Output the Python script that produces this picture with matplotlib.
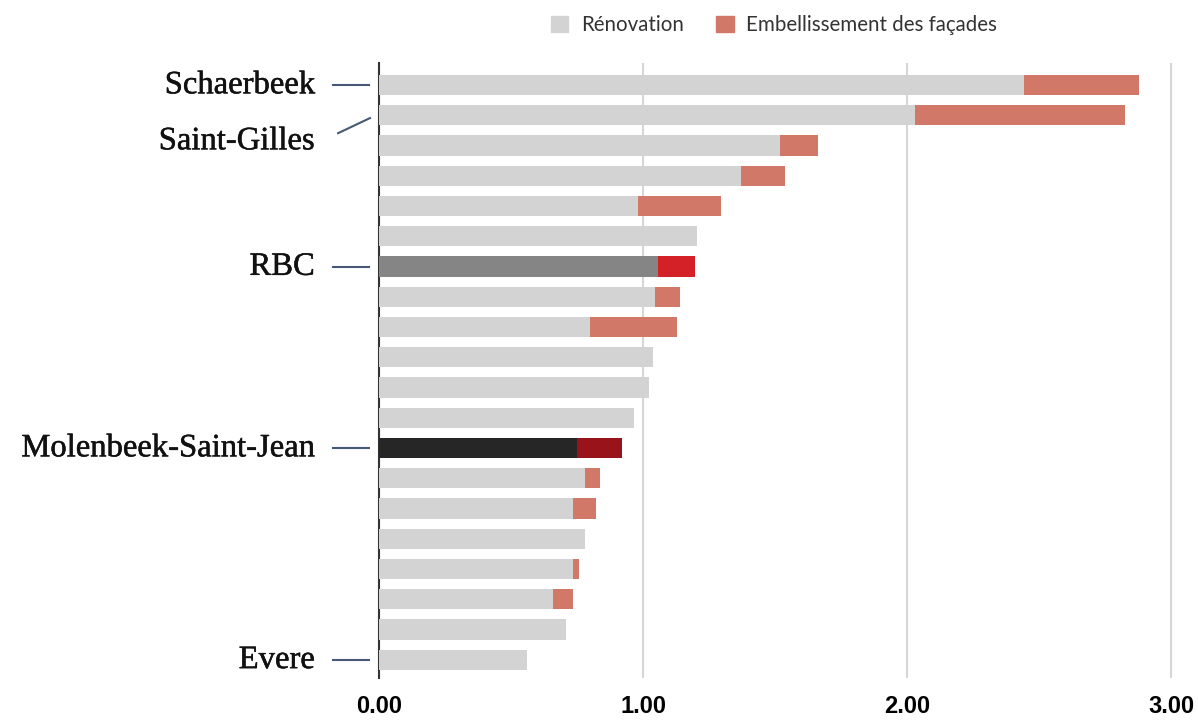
import numpy as np
import matplotlib.pyplot as plt
import matplotlib.patheffects as pe
from matplotlib.patches import Patch

# data (bars top to bottom)
renovation = [2.442, 2.029, 1.520, 1.373, 0.981, 1.205, 1.057, 1.045, 0.801, 1.036,
              1.024, 0.965, 0.751, 0.779, 0.735, 0.779, 0.735, 0.658, 0.708, 0.561]
facades = [0.436, 0.796, 0.143, 0.164, 0.316, 0.0, 0.141, 0.094, 0.326, 0.0,
           0.0, 0.0, 0.169, 0.060, 0.087, 0.0, 0.021, 0.077, 0.0, 0.0]
labels = {0: 'Schaerbeek', 1: 'Saint-Gilles', 6: 'RBC', 12: 'Molenbeek-Saint-Jean', 19: 'Evere'}
xticks = [0, 1, 2, 3]

grey = '#d3d3d3'
salmon = '#d27869'
col_ren = [grey] * len(renovation)
col_fac = [salmon] * len(facades)
col_ren[6], col_fac[6] = '#858585', '#d42027'
col_ren[12], col_fac[12] = '#262626', '#99141a'

fig = plt.figure(figsize=(11.98, 7.2), dpi=100)
W, H = 1198, 720
x0, px_unit = 379, 264
xmax = 3.04
ax = fig.add_axes([x0 / W, 1 - 678 / H, xmax * px_unit / W, (678 - 63) / H])

y = np.arange(len(renovation))
ax.barh(y, renovation, height=0.67, color=col_ren, zorder=3)
ax.barh(y, facades, left=renovation, height=0.67, color=col_fac, zorder=3)

ax.set_xlim(0, xmax)
ax.set_ylim(19.6, -0.73)
ax.set_yticks([])
ax.set_xticks(xticks)
ax.set_xticklabels(['%.2f' % v for v in xticks])
for t in ax.get_xticklabels():
    t.set_fontsize(17)
    t.set_fontweight('bold')
    t.set_family(['Liberation Sans', 'DejaVu Sans'])
ax.tick_params(axis='x', length=0, pad=12)
ax.grid(axis='x', color='#d6d6d6', linewidth=1.5, zorder=0)
for s in ['top', 'right', 'bottom']:
    ax.spines[s].set_visible(False)
ax.spines['left'].set_color('#333333')
ax.spines['left'].set_linewidth(1.5)
ax.spines['left'].set_zorder(2)

# side labels with connector lines
line_col = '#475a75'
for i, name in labels.items():
    if name == 'Saint-Gilles':
        ax.plot([-0.155, -0.034], [1.59, 1.09], color=line_col, lw=1.5, clip_on=False)
        ty = 1.85
    else:
        ax.plot([-0.174, -0.038], [i, i], color=line_col, lw=1.5, clip_on=False)
        ty = i
    ax.text(-0.243, ty, name, ha='right', va='center', fontsize=23.5,
            family=['Liberation Serif', 'DejaVu Serif'], color='#111111',
            path_effects=[pe.withStroke(linewidth=0.35, foreground='#111111')])

handles = [Patch(color=grey, label='Rénovation'),
           Patch(color=salmon, label='Embellissement des façades')]
fig.legend(handles=handles, loc='center', bbox_to_anchor=(774 / W, 1 - 25 / H), ncol=2,
           frameon=False, prop={'family': ['Lato', 'DejaVu Sans'], 'size': 14.8},
           labelcolor='#333333',
           handlelength=0.85, handleheight=0.85, handletextpad=0.6, columnspacing=1.6)

fig.savefig('out.png', dpi=100)
